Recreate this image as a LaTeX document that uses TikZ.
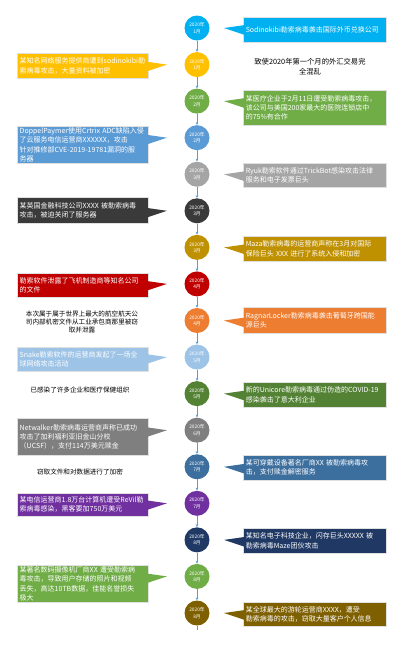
\documentclass[tikz,border=0pt]{standalone}
\usepackage{fontspec}
\setmainfont{Noto Sans CJK SC}
\usetikzlibrary{arrows.meta}
\definecolor{kA}{HTML}{00B0F0}
\definecolor{kB}{HTML}{FFC000}
\definecolor{kC}{HTML}{70AD47}
\definecolor{kD}{HTML}{5B9BD5}
\definecolor{kE}{HTML}{A5A5A5}
\definecolor{kF}{HTML}{3A3A3A}
\definecolor{kG}{HTML}{BF9000}
\definecolor{kH}{HTML}{C00000}
\definecolor{kI}{HTML}{ED7D31}
\definecolor{kJ}{HTML}{9DC3E6}
\definecolor{kK}{HTML}{548235}
\definecolor{kL}{HTML}{7F7F7F}
\definecolor{kM}{HTML}{3C6E9E}
\definecolor{kN}{HTML}{7030A0}
\definecolor{kO}{HTML}{1F3864}
\definecolor{kP}{HTML}{70AD47}
\definecolor{kQ}{HTML}{7F6000}
\definecolor{linkc}{HTML}{5B9BD5}
\newcommand\rwedge[2]{\fill[#1] (245,#2-3) -- (224,#2) -- (245,#2+7) -- cycle;}
\newcommand\lwedge[2]{\fill[#1] (146,#2-3) -- (167,#2) -- (146,#2+7) -- cycle;}
\hyphenpenalty=10000
\begin{document}
\begin{tikzpicture}[x=1pt,y=-1pt,
  dot/.style={circle,minimum size=25pt,inner sep=0pt,text=white,font=\fontsize{4.8}{6.4}\selectfont,align=center},
  rbox/.style={anchor=north west,rectangle,text=white,font=\fontsize{7}{9.3}\selectfont,align=left,text width=138pt,inner xsep=2.5pt,inner ysep=1pt,draw=black!12,line width=0.5pt},
  lbox/.style={rbox,text width=126pt},
  plain/.style={font=\fontsize{7}{8}\selectfont,align=center,text=black},
  link/.style={draw=linkc,line width=0.5pt,-{Stealth[length=3pt,width=2.6pt]}}]
\useasboundingbox (0,0) rectangle (405,657);
% timeline circles
\foreach \i/\c/\m in {1/kA/1,2/kB/1,3/kC/2,4/kD/2,5/kE/3,6/kF/3,7/kG/3,8/kH/4,9/kI/4,10/kJ/5,11/kK/5,12/kL/6,13/kM/7,14/kN/7,15/kO/8,16/kP/8,17/kQ/8}
  \node[dot,fill=\c] (d\i) at (197,{28+36.5625*(\i-1)}) {2020年\\\m 月};
\foreach \i [evaluate=\i as \j using int(\i+1)] in {1,...,16}
  \draw[link] (d\i) -- (d\j);
\coordinate (tend) at (197,630);
\draw[draw=linkc,line width=0.5pt] (d17) -- (tend);
% right boxes
\node[rbox,fill=kA,minimum height=25pt] (r1) at (243,17) {Sodinokibi勒索病毒袭击国际外币兑换公司};
\rwedge{kA}{28}
\node[rbox,fill=kC,minimum height=35pt] (r2) at (243,90) {某医疗企业于2月11日遭受勒索病毒攻击，\\该公司与美国200家最大的医院连锁店中\\的75\%有合作};
\rwedge{kC}{101.1}
\node[rbox,fill=kE,minimum height=24pt] (r3) at (243,163) {Ryuk勒索软件通过TrickBot感染攻击法律\\服务和电子发票巨头};
\rwedge{kE}{174.3}
\node[rbox,fill=kG,minimum height=25pt] (r4) at (243,236) {Maza勒索病毒的运营商声称在3月对国际\\保险巨头~XXX~进行了系统入侵和加密};
\rwedge{kG}{247.4}
\node[rbox,fill=kI,minimum height=26pt] (r5) at (243,307) {RagnarLocker勒索病毒袭击葡萄牙跨国能\\源巨头};
\rwedge{kI}{320.5}
\node[rbox,fill=kK,minimum height=25pt] (r6) at (243,382) {新的Unicore勒索病毒通过伪造的COVID-19\\感染袭击了意大利企业};
\rwedge{kK}{393.6}
\node[rbox,fill=kM,minimum height=25pt] (r7) at (243,455) {某可穿戴设备著名厂商XX~被勒索病毒攻\\击，支付赎金解密服务};
\rwedge{kM}{466.8}
\node[rbox,fill=kO,minimum height=25pt] (r8) at (243,528) {某知名电子科技企业，闪存巨头XXXXX~被\\勒索病毒Maze团伙攻击};
\rwedge{kO}{539.9}
\node[rbox,fill=kQ,minimum height=24pt] (r9) at (243,602) {某全球最大的游轮运营商XXXX，遭受\\勒索病毒的攻击，窃取大量客户个人信息};
\rwedge{kQ}{613}
% left boxes
\node[lbox,fill=kB,minimum height=25pt] (l1) at (17,53) {某知名网络服务提供商遭到sodinokibi勒\\索病毒攻击，大量资料被加密};
\lwedge{kB}{64.6}
\node[lbox,fill=kD,minimum height=37pt] (l2) at (17,126) {DoppelPaymer使用Crtrix~ADC缺陷入侵\\了云服务电信运营商XXXXXX，攻击\\针对推修部CVE-2019-19781漏洞的服\\务器};
\lwedge{kD}{137.7}
\node[lbox,fill=kF,minimum height=26pt] (l3) at (17,197) {某英国金融科技公司XXXX~被勒索病毒\\攻击，被迫关闭了服务器};
\lwedge{kF}{210.8}
\node[lbox,fill=kH,minimum height=24pt] (l4) at (17,273) {勒索软件泄露了飞机制造商等知名公司\\的文件};
\lwedge{kH}{283.9}
\node[lbox,fill=kJ,minimum height=24pt] (l5) at (17,347) {Snake勒索软件的运营商发起了一场全\\球网络攻击活动};
\lwedge{kJ}{357.1}
\node[lbox,fill=kL,minimum height=37pt] (l6) at (17,418) {Netwalker勒索病毒运营商声称已成功\\攻击了加利福利亚旧金山分校\\（UCSF），支付114万美元赎金};
\lwedge{kL}{430.2}
\node[lbox,fill=kN,minimum height=23pt] (l7) at (17,493) {某电信运营商1.8万台计算机遭受ReVil勒\\索病毒感染，黑客要加750万美元};
\lwedge{kN}{503.3}
\node[lbox,fill=kP,minimum height=37pt] (l8) at (17,565) {某著名数码摄像机厂商XX~遭受勒索病\\毒攻击，导致用户存储的照片和视频\\丢失，高达10TB数据，佳能名誉损失\\极大};
\lwedge{kP}{576.4}
% plain notes
\node[plain,font=\fontsize{7.3}{10}\selectfont] (p1) at (310,67) {致使2020年第一个月的外汇交易完\\全混乱};
\node[plain,font=\fontsize{6.6}{7.6}\selectfont] (p2) at (82,322) {本次属于属于世界上最大的航空航天公\\司内部机密文件从工业承包商那里被窃\\取并泄露};
\node[plain,font=\fontsize{6.6}{8}\selectfont] (p3) at (80,390) {已感染了许多企业和医疗保健组织};
\node[plain,font=\fontsize{6.6}{8}\selectfont] (p4) at (80,472) {窃取文件和对数据进行了加密};
\end{tikzpicture}
\end{document}
